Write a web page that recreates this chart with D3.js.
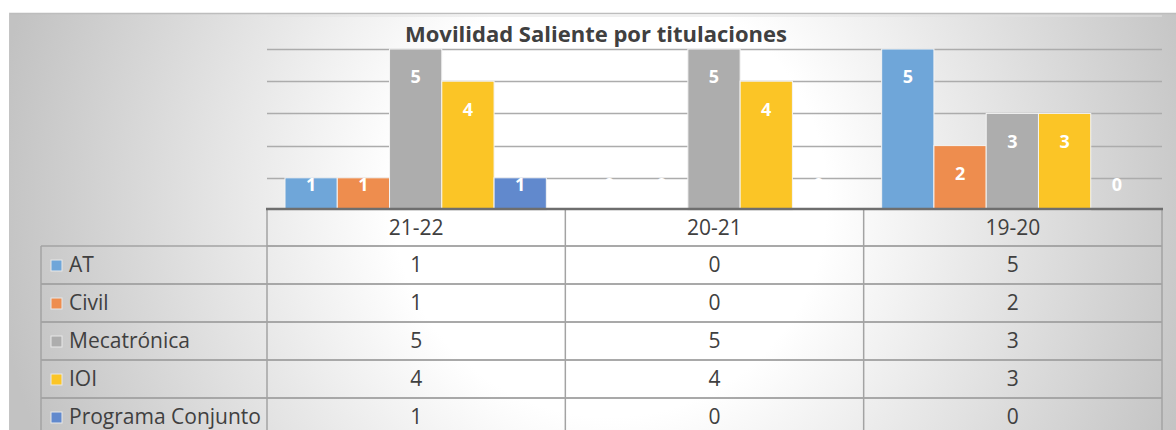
<!DOCTYPE html>
<html lang="es">
<head>
    <meta charset="UTF-8">
    <title>Movilidad Saliente por titulaciones</title>
    <style>
        html, body {
            margin: 0;
            padding: 0;
            background: #ffffff;
        }
        svg {
            display: block;
        }
    </style>
</head>
<body>
<svg id="chart"></svg>
<script src="https://cdnjs.cloudflare.com/ajax/libs/d3/7.8.5/d3.min.js"></script>
<script>
    "use strict"

    // datos
    const cursos = ["21-22", "20-21", "19-20"];
    const titulaciones = ["AT", "Civil", "Mecatrónica", "IOI", "Programa Conjunto"];
    const valoresAT = [1, 0, 5];
    const valoresCivil = [1, 0, 2];
    const valoresMecatronica = [5, 5, 3];
    const valoresIOI = [4, 4, 3];
    const valoresConjunto = [1, 0, 0];
    const colores = ["#6fa6d9", "#ee8d4e", "#adadad", "#fbc526", "#6189cd"];
    const ticksY = [0, 1, 2, 3, 4, 5];

    const series = [valoresAT, valoresCivil, valoresMecatronica, valoresIOI, valoresConjunto];

    const width = 1176, height = 430;
    const font = "'Open Sans', sans-serif";

    const svg = d3.select("#chart")
        .attr("width", width)
        .attr("height", height);

    /* fondo degradado */
    const defs = svg.append("defs");
    const grad = defs.append("radialGradient")
        .attr("id", "fondo")
        .attr("gradientUnits", "userSpaceOnUse")
        .attr("cx", 610)
        .attr("cy", 200)
        .attr("r", 620);
    grad.append("stop").attr("offset", 0).attr("stop-color", "#ffffff");
    grad.append("stop").attr("offset", 0.35).attr("stop-color", "#ffffff");
    grad.append("stop").attr("offset", 1).attr("stop-color", "#c2c2c2");

    svg.append("rect")
        .attr("x", 9)
        .attr("y", 13)
        .attr("width", width - 9)
        .attr("height", height - 13)
        .attr("fill", "url(#fondo)");
    svg.append("line")
        .attr("x1", 9).attr("y1", 13.5)
        .attr("x2", width).attr("y2", 13.5)
        .attr("stroke", "#bdbdbd")
        .attr("stroke-width", 1.5);
    svg.append("line")
        .attr("x1", 9.5).attr("y1", 13)
        .attr("x2", 9.5).attr("y2", height)
        .attr("stroke", "#c4c4c4")
        .attr("stroke-width", 1);

    /* escalas */
    const x = d3.scaleBand()
        .domain(cursos)
        .range([267, 1162]);
    const xs = d3.scaleBand()
        .domain(titulaciones)
        .range([18, x.bandwidth() - 19]);
    const y = d3.scaleLinear()
        .domain([0, 5])
        .range([210, 49]);

    /* lineas de division */
    svg.append("line")
        .attr("x1", 267).attr("y1", 16)
        .attr("x2", 1162).attr("y2", 16)
        .attr("stroke", "#e2e2e2")
        .attr("stroke-width", 1);
    svg.selectAll(".grid")
        .data(ticksY.slice(1))
        .enter()
        .append("line")
        .attr("class", "grid")
        .attr("x1", 267)
        .attr("x2", 1162)
        .attr("y1", d => Math.round(y(d)) + 0.5)
        .attr("y2", d => Math.round(y(d)) + 0.5)
        .attr("stroke", "#acacac")
        .attr("stroke-width", 1.3);

    /* barras */
    series.forEach((valores, i) => {
        svg.selectAll(".barra" + i)
            .data(valores)
            .enter()
            .append("rect")
            .attr("class", "barra" + i)
            .attr("x", (d, j) => x(cursos[j]) + xs(titulaciones[i]))
            .attr("y", d => y(d))
            .attr("width", xs.bandwidth())
            .attr("height", d => y(0) - y(d))
            .attr("fill", colores[i])
            .attr("stroke", "#f4f4f4")
            .attr("stroke-width", 1);

        svg.selectAll(".etiqueta" + i)
            .data(valores)
            .enter()
            .append("text")
            .attr("class", "etiqueta" + i)
            .attr("x", (d, j) => x(cursos[j]) + xs(titulaciones[i]) + xs.bandwidth() / 2)
            .attr("y", d => Math.min(y(d) + 28, y(1) + 7))
            .attr("dy", "0.35em")
            .attr("text-anchor", "middle")
            .attr("font-family", font)
            .attr("font-weight", "bold")
            .attr("font-size", "18px")
            .attr("fill", "#ffffff")
            .text(d => d);
    });

    /* titulo */
    svg.append("text")
        .attr("x", 596)
        .attr("y", 34)
        .attr("dy", "0.35em")
        .attr("text-anchor", "middle")
        .attr("font-family", font)
        .attr("font-weight", "bold")
        .attr("font-size", "22px")
        .attr("fill", "#404040")
        .text("Movilidad Saliente por titulaciones");

    /* tabla de datos */
    const filaTop = 246;
    const filaAlto = 38;
    const fila = d3.scaleBand()
        .domain(titulaciones)
        .range([filaTop, filaTop + filaAlto * titulaciones.length]);
    const colorLinea = "#a3a3a3";

    // lineas horizontales
    svg.append("line")
        .attr("x1", 267).attr("y1", filaTop)
        .attr("x2", 1162).attr("y2", filaTop)
        .attr("stroke", colorLinea)
        .attr("stroke-width", 1.5);
    svg.selectAll(".hfila")
        .data(titulaciones)
        .enter()
        .append("line")
        .attr("class", "hfila")
        .attr("x1", 41)
        .attr("x2", 1162)
        .attr("y1", d => fila(d))
        .attr("y2", d => fila(d))
        .attr("stroke", colorLinea)
        .attr("stroke-width", 1.5);
    svg.selectAll(".hfila2")
        .data(titulaciones)
        .enter()
        .append("line")
        .attr("class", "hfila2")
        .attr("x1", 41)
        .attr("x2", 1162)
        .attr("y1", d => fila(d) + fila.bandwidth())
        .attr("y2", d => fila(d) + fila.bandwidth())
        .attr("stroke", colorLinea)
        .attr("stroke-width", 1.5);

    // lineas verticales
    const bordes = cursos.map(c => x(c)).concat([x.range()[1]]);
    svg.selectAll(".vcol")
        .data(bordes)
        .enter()
        .append("line")
        .attr("class", "vcol")
        .attr("x1", d => d)
        .attr("x2", d => d)
        .attr("y1", 209)
        .attr("y2", height)
        .attr("stroke", colorLinea)
        .attr("stroke-width", 1.5);
    svg.append("line")
        .attr("x1", 41).attr("y1", filaTop)
        .attr("x2", 41).attr("y2", height)
        .attr("stroke", colorLinea)
        .attr("stroke-width", 1.5);

    // eje base
    svg.append("line")
        .attr("x1", 266).attr("y1", 209)
        .attr("x2", 1163).attr("y2", 209)
        .attr("stroke", "#6e6e6e")
        .attr("stroke-width", 2.5);

    // cabecera
    svg.selectAll(".cabecera")
        .data(cursos)
        .enter()
        .append("text")
        .attr("class", "cabecera")
        .attr("x", d => x(d) + x.bandwidth() / 2)
        .attr("y", 228)
        .attr("dy", "0.35em")
        .attr("text-anchor", "middle")
        .attr("font-family", font)
        .attr("font-size", "21px")
        .attr("fill", "#404040")
        .text(d => d);

    // leyenda
    svg.selectAll(".muestra")
        .data(titulaciones)
        .enter()
        .append("rect")
        .attr("class", "muestra")
        .attr("x", 51)
        .attr("y", d => fila(d) + fila.bandwidth() / 2 - 5)
        .attr("width", 11)
        .attr("height", 11)
        .attr("fill", (d, i) => colores[i])
        .attr("stroke", "#e8e8e8")
        .attr("stroke-width", 1);
    svg.selectAll(".nombre")
        .data(titulaciones)
        .enter()
        .append("text")
        .attr("class", "nombre")
        .attr("x", 69)
        .attr("y", d => fila(d) + fila.bandwidth() / 2)
        .attr("dy", "0.35em")
        .attr("font-family", font)
        .attr("font-size", "21px")
        .attr("fill", "#404040")
        .text(d => d);

    // valores
    series.forEach((valores, i) => {
        svg.selectAll(".celda" + i)
            .data(valores)
            .enter()
            .append("text")
            .attr("class", "celda" + i)
            .attr("x", (d, j) => x(cursos[j]) + x.bandwidth() / 2)
            .attr("y", fila(titulaciones[i]) + fila.bandwidth() / 2)
            .attr("dy", "0.35em")
            .attr("text-anchor", "middle")
            .attr("font-family", font)
            .attr("font-size", "21px")
            .attr("fill", "#404040")
            .text(d => d);
    });
</script>
</body>
</html>
